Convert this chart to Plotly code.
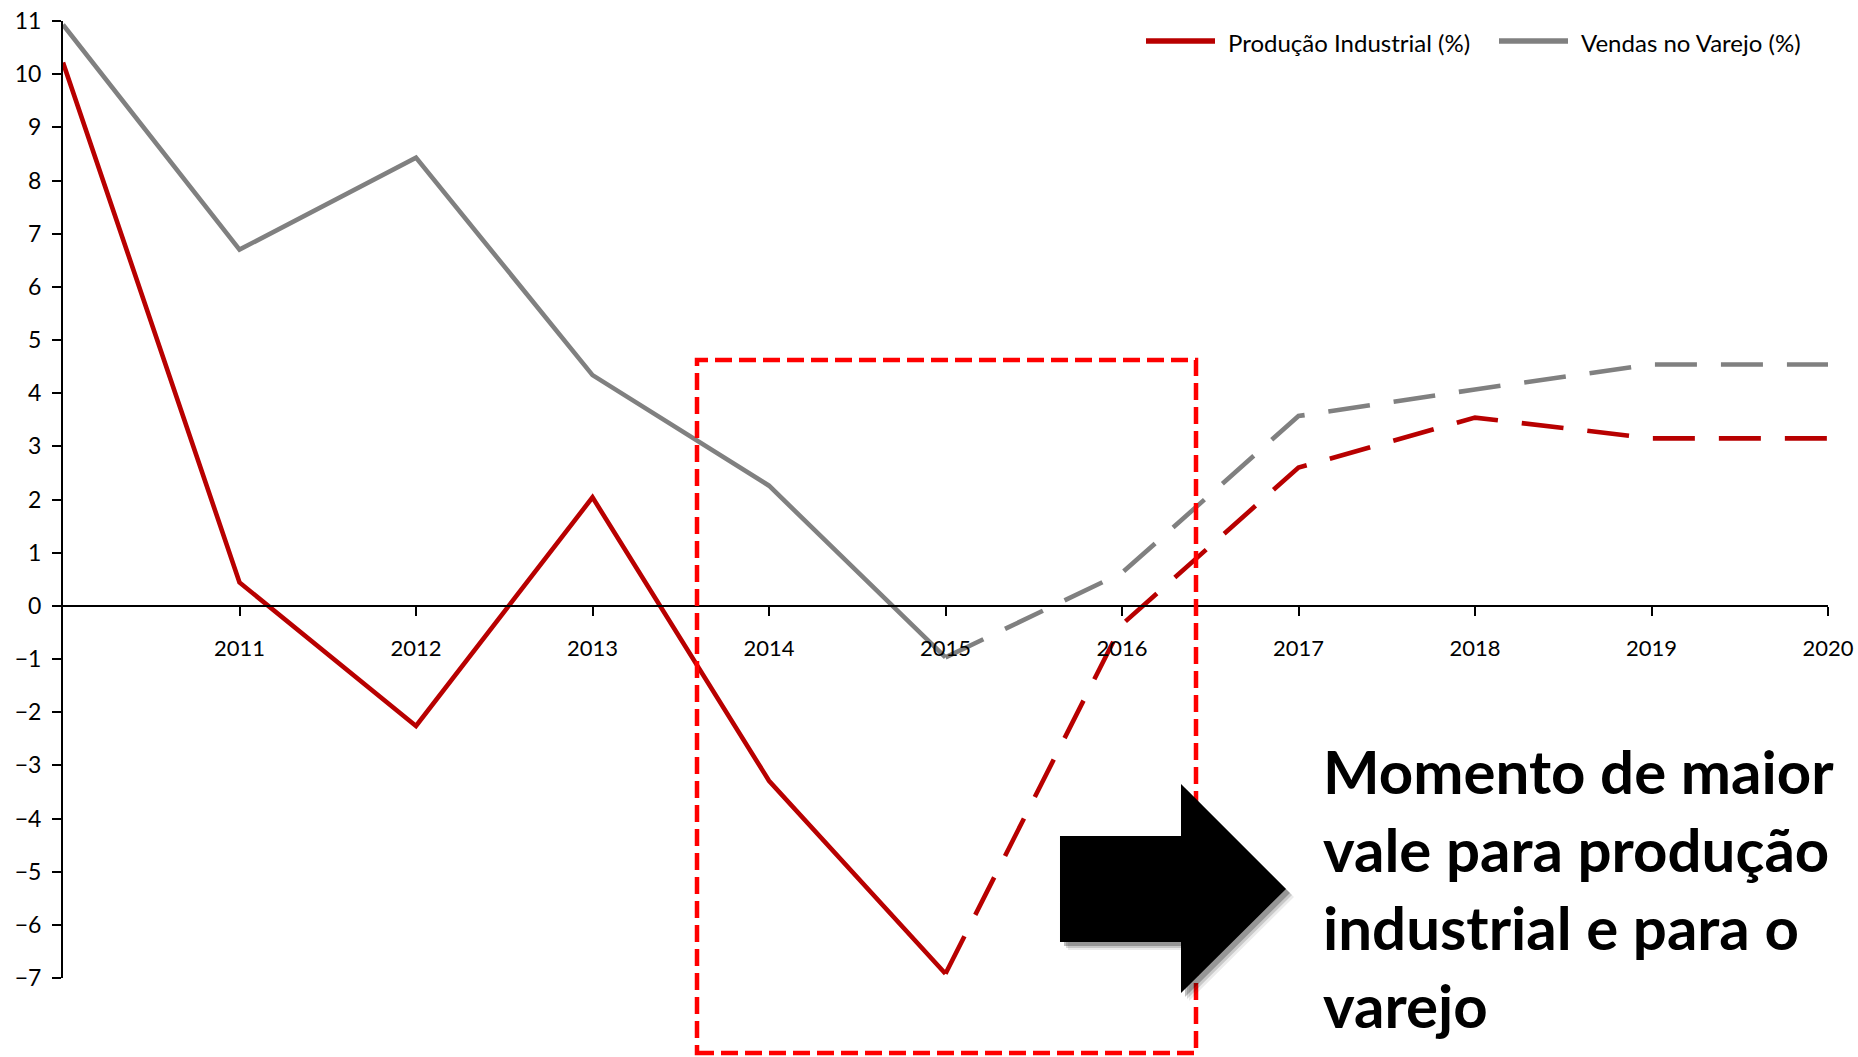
import plotly.graph_objects as go

# ---------------- data ----------------
years = [2010, 2011, 2012, 2013, 2014, 2015, 2016, 2017, 2018, 2019, 2020]
producao = [10.22, 0.44, -2.26, 2.04, -3.29, -6.92, -0.35, 2.6, 3.54, 3.15, 3.15]
varejo = [10.93, 6.7, 8.43, 4.34, 2.26, -0.97, 0.62, 3.57, 4.07, 4.54, 4.54]
last_actual = 2015  # solid up to this year, dashed (projection) afterwards
xtick_vals = [2011, 2012, 2013, 2014, 2015, 2016, 2017, 2018, 2019, 2020]
series_names = ["Produção Industrial (%)", "Vendas no Varejo (%)"]
note_lines = ["Momento de maior", "vale para produção", "industrial e para o", "varejo"]

RED = "#B80000"
GRAY = "#808080"
FONT = "Lato, 'Open Sans', 'DejaVu Sans', sans-serif"

W, H = 1858, 1057
ML, MR, MT, MB = 63, 30, 21, 79
PW, PH = W - ML - MR, H - MT - MB


def px(x):
    return (x - ML) / PW


def py(y):
    return (H - MB - y) / PH


k = years.index(last_actual)

fig = go.Figure()
for vals, color in ((varejo, GRAY), (producao, RED)):
    fig.add_trace(go.Scatter(x=years[:k + 1], y=vals[:k + 1], mode="lines",
                             line=dict(color=color, width=4.6), showlegend=False,
                             hoverinfo="x+y"))
    fig.add_trace(go.Scatter(x=years[k:], y=vals[k:], mode="lines",
                             line=dict(color=color, width=4.6, dash="42px,24px"),
                             showlegend=False, hoverinfo="x+y"))

shapes = []
annotations = []

# custom legend
for (x0, x1, tx), color, name in zip(((1146, 1215, 1226), (1499, 1568, 1579)),
                                     (RED, GRAY), series_names):
    shapes.append(dict(type="line", xref="paper", yref="paper",
                       x0=px(x0), x1=px(x1), y0=py(41), y1=py(41),
                       line=dict(color=color, width=5.5)))
    annotations.append(dict(xref="paper", yref="paper", x=px(tx), y=py(43),
                            xanchor="left", yanchor="middle", showarrow=False,
                            text=name, font=dict(family=FONT, size=24, color="black")))

# dashed highlight rectangle
shapes.append(dict(type="rect", xref="paper", yref="paper",
                   x0=px(697), x1=px(1196), y0=py(1053), y1=py(360),
                   line=dict(color="#FF0000", width=4.5, dash="17px,7px"),
                   layer="above"))

# block arrow with shadow
arrow_pts = [(1060, 836), (1181, 836), (1181, 784), (1286, 889),
             (1181, 993), (1181, 942), (1060, 942)]


def path_of(pts, dx=0, dy=0):
    return "M " + " L ".join(f"{px(x + dx):.5f},{py(y + dy):.5f}" for x, y in pts) + " Z"


for dxy, op in ((8, 0.08), (6, 0.15), (4, 0.25)):
    shapes.append(dict(type="path", xref="paper", yref="paper",
                       path=path_of(arrow_pts, dxy, dxy),
                       fillcolor=f"rgba(0,0,0,{op})", line=dict(width=0), layer="above"))
shapes.append(dict(type="path", xref="paper", yref="paper", path=path_of(arrow_pts),
                   fillcolor="black", line=dict(color="black", width=0), layer="above"))

annotations.append(dict(xref="paper", yref="paper", x=px(1322), y=py(734),
                        xanchor="left", yanchor="top", align="left", showarrow=False,
                        borderpad=0, text="<br>".join(note_lines),
                        font=dict(family=FONT, size=60, color="black", weight="bold")))

fig.update_layout(
    width=W, height=H,
    margin=dict(l=ML, r=MR, t=MT, b=MB, autoexpand=False),
    paper_bgcolor="white", plot_bgcolor="white",
    font=dict(family=FONT, color="black"),
    shapes=shapes, annotations=annotations,
    xaxis=dict(range=[2010, 2020], anchor="free", position=7 / 18,
               tickvals=xtick_vals, ticktext=[str(v) for v in xtick_vals],
               showline=True, linecolor="black", linewidth=2,
               ticks="outside", ticklen=9, tickwidth=2, tickcolor="black",
               ticklabelstandoff=14,
               showgrid=False, zeroline=False,
               tickfont=dict(family=FONT, size=22, color="black")),
    yaxis=dict(range=[-7, 11], dtick=1, tick0=0,
               showline=True, linecolor="black", linewidth=2,
               ticks="outside", ticklen=9, tickwidth=2, tickcolor="black",
               ticklabelstandoff=6,
               showgrid=False, zeroline=False,
               tickfont=dict(family=FONT, size=23, color="black")),
    showlegend=False,
)

fig.write_html("out.html", config={"displayModeBar": False},
               post_script="document.body.style.margin='0';")
